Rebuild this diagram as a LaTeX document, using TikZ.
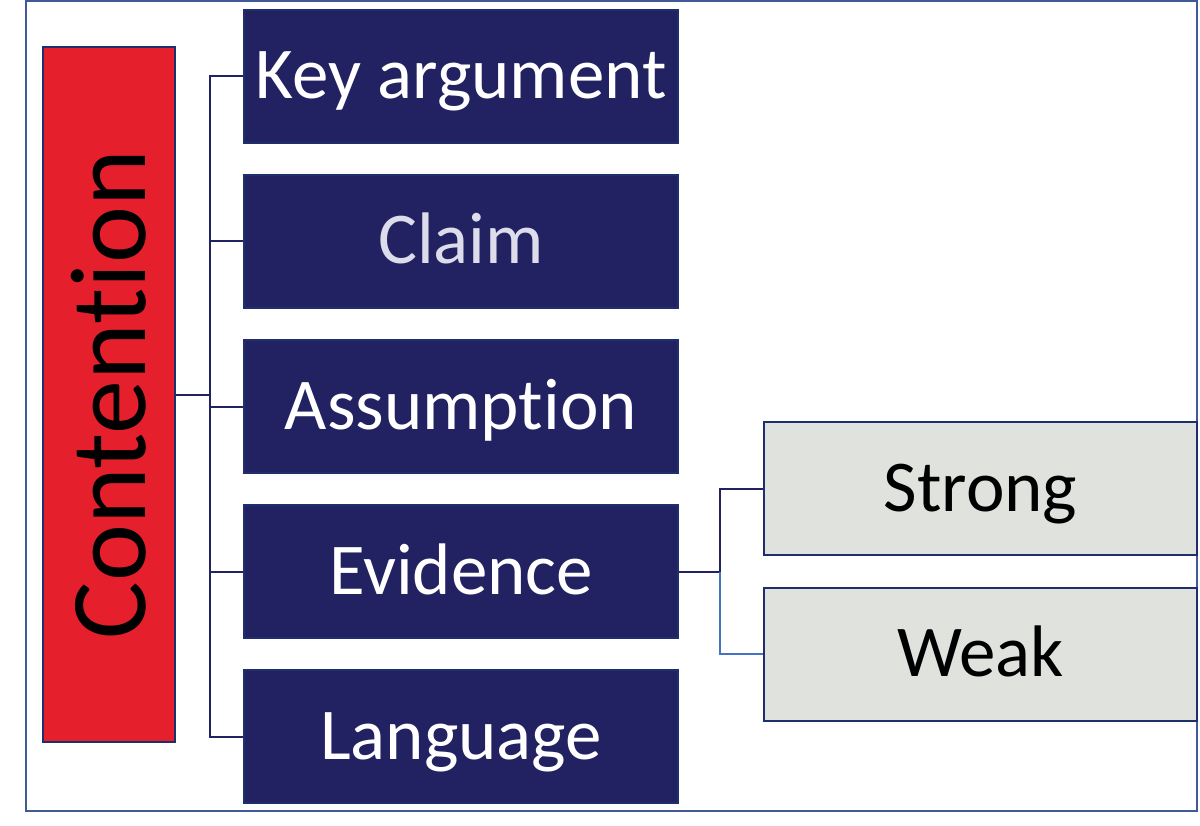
\documentclass[tikz,border=0pt]{standalone}
\usepackage{fontspec}
\setmainfont[Ligatures=NoCommon]{Carlito}
\definecolor{navy}{HTML}{222262}
\definecolor{edgeblue}{HTML}{1F2F6E}
\definecolor{framecol}{HTML}{3F5A96}
\definecolor{redfill}{HTML}{E51F2B}
\definecolor{greyfill}{HTML}{E0E2DE}
\definecolor{claimtxt}{HTML}{DCDCEA}
\definecolor{lightline}{HTML}{4472C4}
\begin{document}
\begin{tikzpicture}[x=1pt,y=-1pt,
  navybox/.style={draw=edgeblue,line width=2pt,fill=navy,text=white,minimum width=434pt,minimum height=133pt,inner sep=0pt,font=\fontsize{73}{80}\selectfont,text height=45pt,text depth=0pt},
  greybox/.style={draw=edgeblue,line width=2pt,fill=greyfill,text=black,minimum width=433pt,minimum height=133pt,inner sep=0pt,font=\fontsize{73}{80}\selectfont,text height=45pt,text depth=0pt},
  conn/.style={draw=navy,line width=2pt}]
\useasboundingbox (0,0) rectangle (1200,826);
\draw[framecol,line width=2pt] (26,1) rectangle (1197,811);
\node[draw=edgeblue,line width=2pt,fill=redfill,minimum width=132pt,minimum height=695pt,inner sep=0pt] (cont) at (109,394.5) {};
\node[rotate=90,font=\fontsize{108}{110}\selectfont,text=black] (conttxt) at (109,394.5) {Contention};
\node[navybox] (key) at (461,76.5) {Key argument};
\node[navybox,text=claimtxt] (claim) at (461,241.5) {Claim};
\node[navybox] (assum) at (461,406.5) {Assumption};
\node[navybox] (evid) at (461,571.5) {Evidence};
\node[navybox] (lang) at (461,736.5) {Language};
\node[greybox] (strong) at (980.5,488.5) {Strong};
\node[greybox] (weak) at (980.5,654) {Weak};
\coordinate (trunk) at (210,394.5);
\draw[conn] (cont.east) -- (trunk);
\draw[conn] (key.west) -| (trunk);
\draw[conn] (claim.west) -- (claim.west -| trunk);
\draw[conn] (assum.west) -- (assum.west -| trunk);
\draw[conn] (evid.west) -- (evid.west -| trunk);
\draw[conn] (lang.west) -| (trunk);
\coordinate (ebr) at (720,571.5);
\draw[conn] (evid.east) -- (ebr);
\draw[conn] (ebr) |- (strong.west);
\draw[draw=lightline,line width=2pt] (ebr) |- (weak.west);
\end{tikzpicture}
\end{document}
